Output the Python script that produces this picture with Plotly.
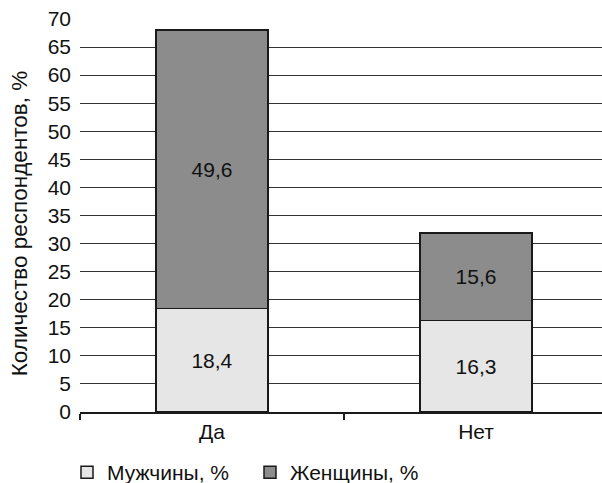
import plotly.graph_objects as go

# Survey answers and shares of respondents by sex, %
categories = ["Да", "Нет"]
men = [18.4, 16.3]
women = [49.6, 15.6]
men_label = "Мужчины, %"
women_label = "Женщины, %"
y_title = "Количество респондентов, %"

FONT = "Liberation Sans, Arial, sans-serif"
FS = 21
OUTLINE = dict(color="#1a1a1a", width=1.5)


def fmt(v):
    return f"{v:.1f}".replace(".", ",")


fig = go.Figure()
fig.add_trace(go.Bar(
    x=categories, y=men, name=men_label,
    marker=dict(color="#e6e6e6", line=OUTLINE),
    text=[fmt(v) for v in men], textposition="inside",
    insidetextanchor="middle", textangle=0,
    textfont=dict(size=FS, color="#111111", family=FONT),
    width=0.424,
))
fig.add_trace(go.Bar(
    x=categories, y=women, name=women_label,
    marker=dict(color="#8c8c8c", line=OUTLINE),
    text=[fmt(v) for v in women], textposition="inside",
    insidetextanchor="middle", textangle=0,
    textfont=dict(size=FS, color="#111111", family=FONT),
    width=0.424,
))

fig.update_layout(
    barmode="stack",
    width=602, height=483,
    margin=dict(l=80, r=0, t=19, b=71, autoexpand=False),
    paper_bgcolor="white", plot_bgcolor="white",
    font=dict(family=FONT, size=FS, color="#111111"),
    showlegend=True,
    legend=dict(
        orientation="h",
        xref="container", x=67 / 602, xanchor="left",
        yref="container", y=(483 - 452) / 483, yanchor="top",
        font=dict(size=FS, family=FONT, color="#111111"),
        traceorder="normal", entrywidth=138, itemwidth=30,
        bgcolor="rgba(0,0,0,0)",
    ),
    uniformtext=dict(mode="show", minsize=FS),
    annotations=[dict(
        text=y_title, xref="paper", yref="paper",
        x=(19 - 80) / 522, y=(412.5 - 223.5) / 393.5,
        xanchor="center", yanchor="middle", textangle=-90,
        showarrow=False, font=dict(size=22.5, family=FONT, color="#111111"),
    )],
)

fig.update_xaxes(
    type="category", range=[-0.5, 1.477], automargin=False,
    showgrid=False, showline=True, linecolor="#1a1a1a", linewidth=1.5,
    ticks="outside", tickson="boundaries", ticklen=6,
    tickcolor="#1a1a1a", tickwidth=1.5,
    tickfont=dict(size=FS, family=FONT, color="#111111"),
)
fig.update_yaxes(
    range=[0, 70], dtick=5, tick0=0, automargin=False,
    showgrid=True, gridcolor="#333333", gridwidth=1,
    showline=False, zeroline=False, ticks="",
    ticklabelstandoff=8,
    tickfont=dict(size=FS, family=FONT, color="#111111"),
)

fig.write_html("out.html")
